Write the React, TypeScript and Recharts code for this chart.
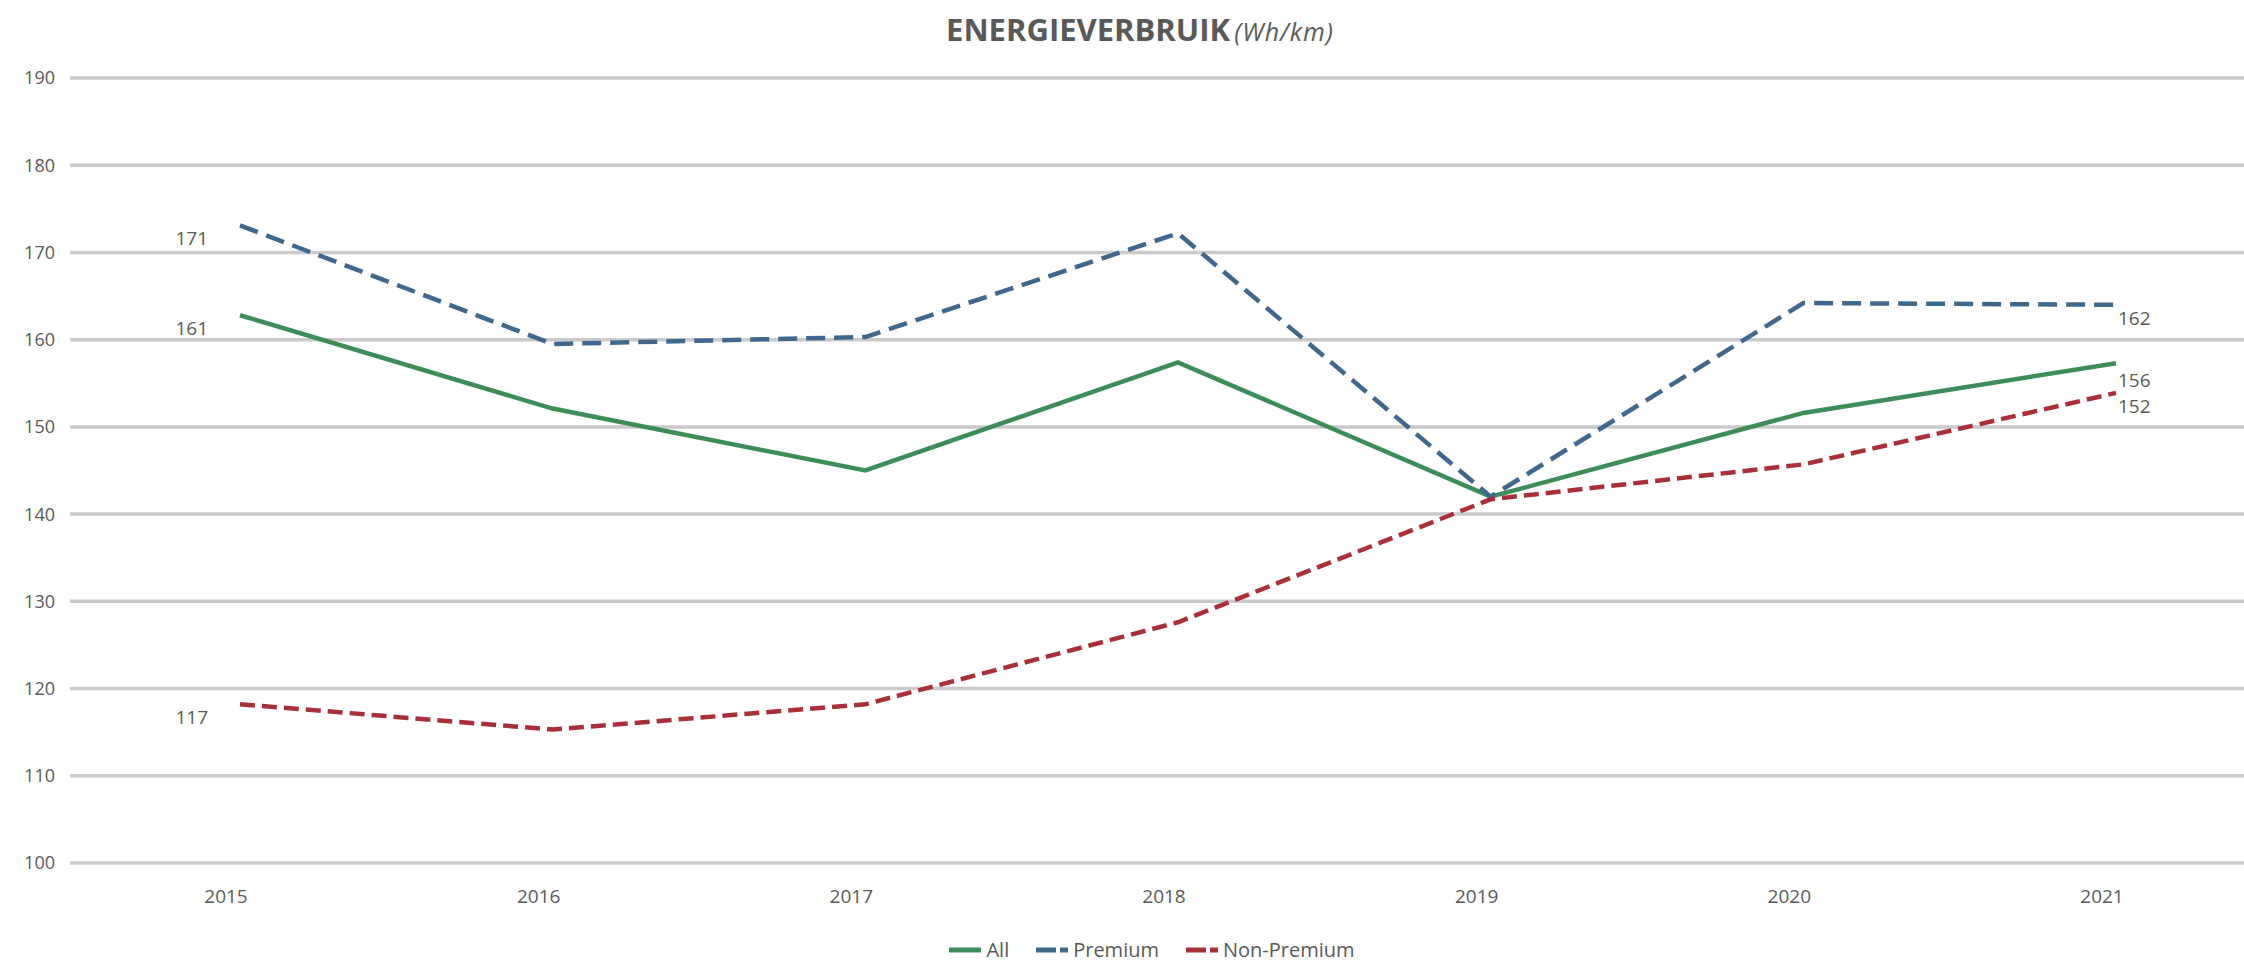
import React from 'react';
import { LineChart, Line, XAxis, YAxis, CartesianGrid, LabelList } from 'recharts';

const years = ['2015', '2016', '2017', '2018', '2019', '2020', '2021'];
const allValues = [162.8, 152.1, 145.0, 157.4, 142.0, 151.6, 157.3];
const premiumValues = [173.1, 159.5, 160.3, 172.2, 142.0, 164.2, 164.0];
const nonPremiumValues = [118.2, 115.3, 118.2, 127.6, 141.7, 145.7, 153.9];

// printed labels (first and last year only)
const allLabels = ['161', '', '', '', '', '', '156'];
const premiumLabels = ['171', '', '', '', '', '', '162'];
const nonPremiumLabels = ['117', '', '', '', '', '', '152'];

const yTicks = [100, 110, 120, 130, 140, 150, 160, 170, 180, 190];

const data = years.map((year, i) => ({
  year,
  all: allValues[i],
  premium: premiumValues[i],
  nonPremium: nonPremiumValues[i],
}));

const TEXT = '#595959';
const FONT = '"Open Sans", "Liberation Sans", sans-serif';
const GREEN = '#3f8c5b';
const BLUE = '#41678b';
const RED = '#a8303b';

const makeLabel = (labels: string[], lastDy: number) => (props: any) => {
  const { x, y, index } = props;
  const text = labels[index];
  if (!text) return null;
  const first = index === 0;
  return (
    <text
      x={first ? x - 32 : x + 2}
      y={y + (first ? 15 : lastDy)}
      textAnchor={first ? 'end' : 'start'}
      dominantBaseline="middle"
      fill={TEXT}
      fontSize={19}
      fontFamily={FONT}
    >
      {text}
    </text>
  );
};

const XTick = (props: any) => {
  const { x, y, payload } = props;
  return (
    <text x={x - 14} y={y} dy="0.71em" textAnchor="middle" fill={TEXT} fontSize={19} fontFamily={FONT}>
      {payload.value}
    </text>
  );
};

const legendItems = [
  { name: 'All', color: GREEN, dash: undefined },
  { name: 'Premium', color: BLUE, dash: '20 4' },
  { name: 'Non-Premium', color: RED, dash: '20 4' },
];

export default function App() {
  return (
    <div style={{ position: 'absolute', left: 0, top: 0, width: 2244, height: 960, background: '#fff' }}>
      <div
        style={{
          position: 'absolute',
          top: 8,
          left: 18,
          width: 2244,
          textAlign: 'center',
          fontFamily: FONT,
          color: TEXT,
        }}
      >
        <span style={{ fontWeight: 700, fontSize: 31 }}>ENERGIEVERBRUIK</span>{' '}
        <span style={{ fontStyle: 'italic', fontSize: 25, letterSpacing: 1 }}>(Wh/km)</span>
      </div>

      <LineChart
        width={2244}
        height={960}
        data={data}
        margin={{ top: 78, right: 0, bottom: 47, left: 0 }}
      >
        <CartesianGrid vertical={false} stroke="#cacaca" strokeWidth={3.5} />
        <XAxis
          dataKey="year"
          axisLine={false}
          tickLine={false}
          height={50}
          tickMargin={21}
          padding={{ left: 170, right: 128 }}
          tick={<XTick />}
        />
        <YAxis
          domain={[100, 190]}
          ticks={yTicks}
          width={70}
          axisLine={false}
          tickLine={false}
          tickSize={0}
          tickMargin={15}
          tick={{ fill: TEXT, fontSize: 18, fontFamily: FONT }}
        />
        <Line
          dataKey="all"
          stroke={GREEN}
          strokeWidth={4.5}
          dot={false}
          isAnimationActive={false}
        >
          <LabelList dataKey="all" content={makeLabel(allLabels, 19)} />
        </Line>
        <Line
          dataKey="premium"
          stroke={BLUE}
          strokeWidth={4.5}
          strokeDasharray="19 9"
          dot={false}
          isAnimationActive={false}
        >
          <LabelList dataKey="premium" content={makeLabel(premiumLabels, 15)} />
        </Line>
        <Line
          dataKey="nonPremium"
          stroke={RED}
          strokeWidth={4.5}
          strokeDasharray="15 7"
          dot={false}
          isAnimationActive={false}
        >
          <LabelList dataKey="nonPremium" content={makeLabel(nonPremiumLabels, 15)} />
        </Line>
      </LineChart>

      <div
        style={{
          position: 'absolute',
          top: 936,
          left: 30,
          width: 2244,
          display: 'flex',
          justifyContent: 'center',
          alignItems: 'center',
          gap: 27,
          fontFamily: FONT,
          fontSize: 20,
          color: TEXT,
        }}
      >
        {legendItems.map((item) => (
          <div key={item.name} style={{ display: 'flex', alignItems: 'center', gap: 5 }}>
            <svg width={32} height={10}>
              <line x1={0} y1={5} x2={32} y2={5} stroke={item.color} strokeWidth={5} strokeDasharray={item.dash} />
            </svg>
            <span>{item.name}</span>
          </div>
        ))}
      </div>
    </div>
  );
}
